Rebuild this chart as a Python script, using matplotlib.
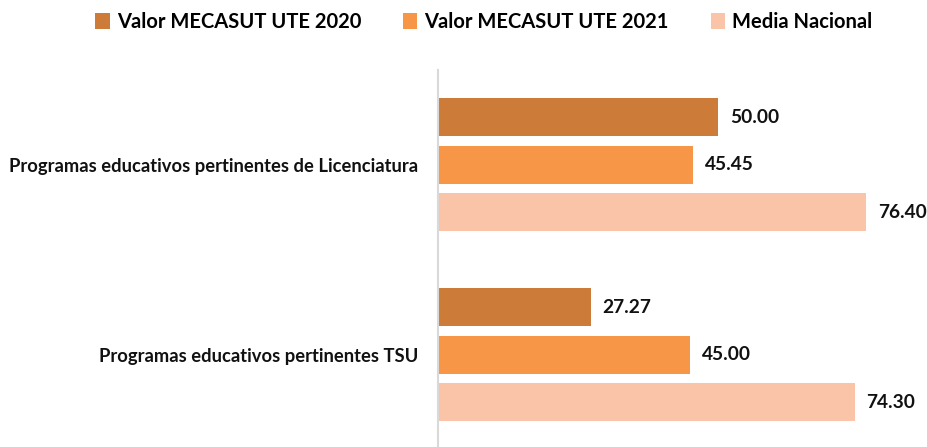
import numpy as np
import matplotlib.pyplot as plt

categorias = ["Programas educativos pertinentes de Licenciatura",
              "Programas educativos pertinentes TSU"]
series = ["Valor MECASUT UTE 2020", "Valor MECASUT UTE 2021", "Media Nacional"]
valores_2020 = [50.00, 27.27]
valores_2021 = [45.45, 45.00]
media_nacional = [76.40, 74.30]
colores = ["#CD7B38", "#F79646", "#FAC4A8"]

plt.rcParams['font.family'] = ['Lato', 'DejaVu Sans']

fig = plt.figure(figsize=(9.27, 4.47), dpi=100)
ax = fig.add_axes([438 / 927, 0, 1 - 438 / 927, 1 - 70 / 447])

y = np.arange(len(categorias))
alto = 0.2
offsets = [-0.25, 0, 0.25]
datos = [valores_2020, valores_2021, media_nacional]
for vals, off, col, nombre in zip(datos, offsets, colores, series):
    barras = ax.barh(y + off, vals, height=alto, color=col, label=nombre)
    for b, v in zip(barras, vals):
        ax.text(v + 2.1, b.get_y() + b.get_height() / 2, f"{v:.2f}",
                va='center', ha='left', fontsize=13.8, fontweight='bold',
                color='#111111')

ax.set_ylim(1.486, -0.5)
ax.set_xlim(0, 87.2)
ax.set_yticks(y)
ax.set_yticklabels(categorias, fontsize=13.2, fontweight='bold', color='#111111')
ax.tick_params(axis='y', length=0, pad=14)
ax.set_xticks([])
for s in ['top', 'right', 'bottom']:
    ax.spines[s].set_visible(False)
ax.spines['left'].set_color('#D9D9D9')
ax.spines['left'].set_linewidth(1.5)

fig.legend(loc='center', bbox_to_anchor=(484 / 927, 1 - 22 / 447), ncol=3,
           frameon=False, handlelength=0.7, handleheight=0.8, handletextpad=0.35,
           columnspacing=2.1, prop={'size': 14.5, 'weight': 'bold'})

fig.savefig("out.png", dpi=100)
